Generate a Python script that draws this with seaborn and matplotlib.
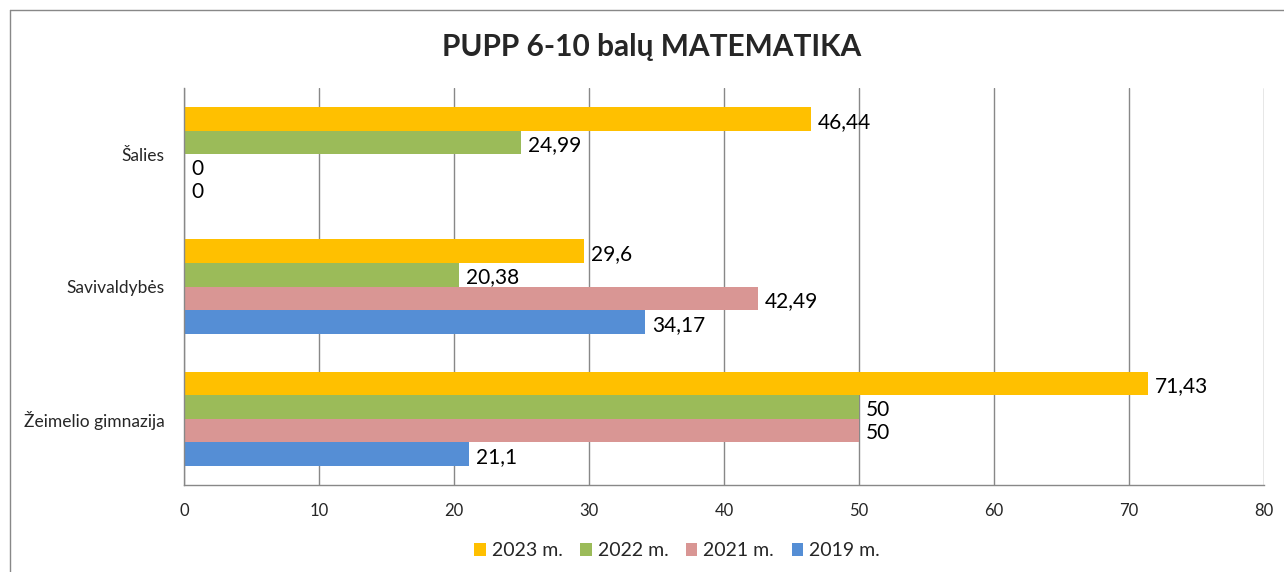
import matplotlib
matplotlib.use("Agg")
import matplotlib.pyplot as plt
import seaborn as sns
import pandas as pd
from matplotlib.lines import Line2D

categories = ["Šalies", "Savivaldybės", "Žeimelio gimnazija"]
series = ["2023 m.", "2022 m.", "2021 m.", "2019 m."]
v2023 = [46.44, 29.6, 71.43]
v2022 = [24.99, 20.38, 50]
v2021 = [0, 42.49, 50]
v2019 = [0, 34.17, 21.1]
x_ticks = [0, 10, 20, 30, 40, 50, 60, 70, 80]
title = "PUPP 6-10 balų MATEMATIKA"
colors = ["#FFC000", "#9BBB59", "#D99694", "#558ED5"]

rows = []
for s, vals in zip(series, [v2023, v2022, v2021, v2019]):
    for c, v in zip(categories, vals):
        rows.append({"cat": c, "series": s, "value": v})
df = pd.DataFrame(rows)

sns.set_style("white")
plt.rcParams["font.family"] = ["Lato", "DejaVu Sans"]

fig = plt.figure(figsize=(12.84, 5.72), dpi=100)
ax = fig.add_axes([184 / 1284, 1 - 485 / 572, (1264 - 184) / 1284, (485 - 88) / 572])

sns.barplot(data=df, y="cat", x="value", hue="series", order=categories,
            hue_order=series, palette=colors, orient="h", width=0.712,
            saturation=1, linewidth=0, edgecolor="none", ax=ax, legend=True)

for cont in ax.containers:
    for b in cont:
        w = b.get_width()
        yc = b.get_y() + b.get_height() / 2
        ax.annotate(f"{w:g}".replace(".", ","), xy=(w, yc), xytext=(5, -2),
                    textcoords="offset points", ha="left", va="center",
                    fontsize=15, color="black")

gray = "#888888"
ax.set_xlim(0, 80)
ax.set_ylim(2.5, -0.5)
ax.set_xticks(x_ticks)
ax.set_xticklabels([str(t) for t in x_ticks], fontsize=12)
ax.set_yticks(range(len(categories)))
ax.set_yticklabels(categories, fontsize=12.5)
ax.set_yticks([-0.5, 0.5, 1.5, 2.5], minor=True)
ax.tick_params(axis="y", which="major", length=0, pad=14)
ax.tick_params(axis="y", which="minor", length=5, direction="out", color=gray, width=1)
ax.tick_params(axis="x", which="major", length=5, direction="out", color=gray, width=1, pad=8)
ax.set_xlabel("")
ax.set_ylabel("")
ax.grid(axis="x", color=gray, linewidth=1)
ax.grid(axis="y", visible=False)
ax.set_axisbelow(True)
for side in ["top", "right"]:
    ax.spines[side].set_visible(False)
for side in ["left", "bottom"]:
    ax.spines[side].set_color(gray)
    ax.spines[side].set_linewidth(1)

handles, lbls = ax.get_legend_handles_labels()
ax.legend_.remove()
fig.legend(handles, lbls, loc="center", bbox_to_anchor=(677 / 1284, 1 - 551 / 572),
           ncol=4, frameon=False, fontsize=14, handlelength=0.6, handleheight=0.6,
           handletextpad=0.3, columnspacing=0.9)

fig.text(652 / 1284, 1 - 47 / 572, title, ha="center", va="center",
         fontsize=21.5, fontweight="bold")

# outer chart frame
fig.add_artist(Line2D([10 / 1284, 10 / 1284], [0, 1 - 10 / 572], transform=fig.transFigure,
                      color=gray, linewidth=1))
fig.add_artist(Line2D([10 / 1284, 1], [1 - 10 / 572, 1 - 10 / 572], transform=fig.transFigure,
                      color=gray, linewidth=1))

fig.savefig("out.png", dpi=100)
